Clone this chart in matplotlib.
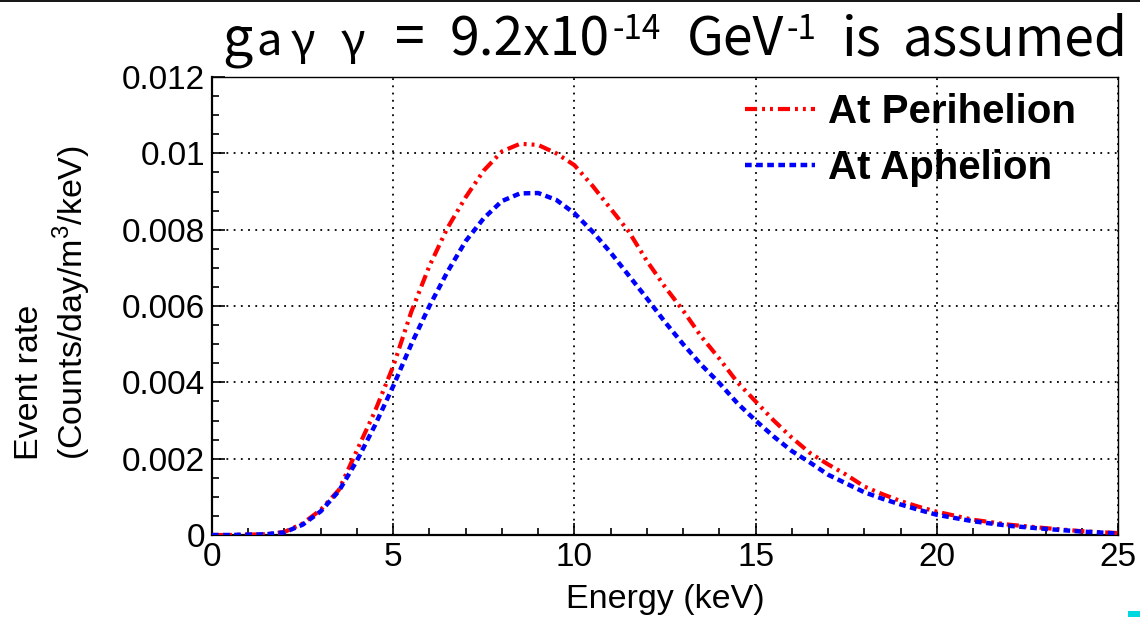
import matplotlib
matplotlib.use('Agg')
import matplotlib.pyplot as plt
from matplotlib.ticker import MultipleLocator, FuncFormatter
from matplotlib.lines import Line2D
from matplotlib.patches import Rectangle

# energy grid (keV) and the two event-rate curves
energy = [0, 0.5, 1, 1.5, 2, 2.5, 3, 3.5, 4, 4.5, 5, 5.5, 6, 6.5, 7, 7.5,
          8, 8.5, 9, 9.5, 10, 10.5, 11, 11.5, 12, 12.5, 13, 13.5, 14, 14.5,
          15, 15.5, 16, 16.5, 17, 17.5, 18, 18.5, 19, 19.5, 20, 21, 22, 23, 24, 25]
rate_perihelion = [0, 0, 0.00001, 0.00002, 0.00008, 0.00030, 0.00066, 0.00118,
                   0.00222, 0.00325, 0.00442, 0.00585, 0.00705, 0.00805, 0.00885,
                   0.00955, 0.01005, 0.01025, 0.01022, 0.01000, 0.00969, 0.00915,
                   0.00855, 0.00795, 0.00718, 0.00650, 0.00588, 0.00520, 0.00462,
                   0.00400, 0.00350, 0.00300, 0.00255, 0.00215, 0.00185, 0.00158,
                   0.00127, 0.00107, 0.00089, 0.00074, 0.00061, 0.00040, 0.00027,
                   0.00018, 0.00010, 0.00005]
rate_aphelion = [0, 0, 0.00001, 0.00002, 0.00007, 0.00027, 0.00062, 0.00115,
                 0.00195, 0.00288, 0.00390, 0.00500, 0.00600, 0.00690, 0.00770,
                 0.00830, 0.00875, 0.00895, 0.00896, 0.00878, 0.00843, 0.00795,
                 0.00740, 0.00680, 0.00620, 0.00558, 0.00500, 0.00446, 0.00398,
                 0.00345, 0.00300, 0.00258, 0.00220, 0.00190, 0.00158, 0.00135,
                 0.00112, 0.00095, 0.00080, 0.00066, 0.00053, 0.00036, 0.00024,
                 0.00016, 0.00009, 0.00004]
series_labels = ['At Perihelion', 'At Aphelion']
# title pieces: text, size factor, superscript?, gap before (em)
title_pieces = [('g', 1.0, False, 0.0), ('a', 0.85, False, 0.05),
                ('γ', 0.85, False, 0.1), ('γ', 0.85, False, 0.3),
                ('=', 1.0, False, 0.35), ('9.2x10', 1.0, False, 0.3),
                ('-14', 0.62, True, 0.03), ('GeV', 1.0, False, 0.3),
                ('-1', 0.62, True, 0.03), ('is', 1.0, False, 0.3),
                ('assumed', 1.0, False, 0.25)]

plt.rcParams['font.family'] = ['Liberation Sans', 'DejaVu Sans']
plt.rcParams['mathtext.fontset'] = 'custom'
plt.rcParams['mathtext.rm'] = 'Liberation Sans'

W, H = 1140, 617
fig = plt.figure(figsize=(W / 100, H / 100), dpi=100)
ax = fig.add_axes([212 / W, 1 - 535 / H, (1118 - 212) / W, (535 - 77) / H])

ax.plot(energy, rate_perihelion, color='red', lw=3,
        linestyle=(0, (2.9, 1.2, 0.7, 1.2, 0.7, 1.2)), label=series_labels[0], zorder=3)
ax.plot(energy, rate_aphelion, color='blue', lw=3.2,
        linestyle=(0, (1.5, 1.0)), label=series_labels[1], zorder=4)

ax.set_xlim(0, 25)
ax.set_ylim(0, 0.012)
ax.xaxis.set_major_locator(MultipleLocator(5))
ax.xaxis.set_minor_locator(MultipleLocator(1))
ax.yaxis.set_major_locator(MultipleLocator(0.002))
ax.yaxis.set_minor_locator(MultipleLocator(0.0005))
fmt = FuncFormatter(lambda v, p: '%g' % v)
ax.xaxis.set_major_formatter(fmt)
ax.yaxis.set_major_formatter(fmt)
ax.tick_params(which='both', direction='in', top=False, right=False,
               labelsize=24, pad=5, width=1.2)
ax.tick_params(which='major', length=9)
ax.tick_params(which='minor', length=5)
ax.grid(True, which='major', color='black', lw=1.3, linestyle=(0, (1, 3)))
for s in ['left', 'bottom']:
    ax.spines[s].set_linewidth(1.6)
for s in ['top', 'right']:
    ax.spines[s].set_linewidth(1.0)

leg = ax.legend(loc='upper left', bbox_to_anchor=(745 / W, 1 - 93 / H),
                bbox_transform=fig.transFigure, frameon=False,
                prop={'family': 'Liberation Sans', 'weight': 'bold', 'size': 29},
                handlelength=1.74, handletextpad=0.32, labelspacing=0.45,
                borderpad=0, borderaxespad=0)

# axis titles
fig.text(38 / W, 1 - 460 / H, 'Event rate', rotation=90, rotation_mode='anchor',
         ha='left', va='baseline', fontsize=24.5)
fig.text(83 / W, 1 - 460 / H, '(Counts/day/m$^{3}$/keV)', rotation=90,
         rotation_mode='anchor', ha='left', va='baseline', fontsize=24.5)
fig.text(665 / W, 1 - 608 / H, 'Energy (keV)', ha='center', va='baseline', fontsize=24.5)

# title, drawn piece by piece (plain hyphens in the superscripts)
renderer = fig.canvas.get_renderer()
tsize = 38.5
em = tsize * 100 / 72


def draw_title(stretch):
    x = 222.0
    arts = []
    for txt, scale, sup, gap in title_pieces:
        x += gap * em * stretch
        y = H - 55 + (0.29 * em if sup else 0)
        t = fig.text(x / W, y / H, txt, ha='left', va='baseline',
                     fontsize=tsize * scale, family=['Noto Sans CJK JP', 'DejaVu Sans'])
        x += t.get_window_extent(renderer).width
        arts.append(t)
    return arts, x


arts, end = draw_title(1.0)
for t in arts:
    t.remove()
total_gap = sum(p[3] for p in title_pieces) * em
draw_title(max(0.3, 1 + (1128 - end) / total_gap))

# screenshot border bits
fig.add_artist(Line2D([0, 1], [1 - 0.8 / H, 1 - 0.8 / H], transform=fig.transFigure,
                      color='black', lw=1.3))
fig.add_artist(Rectangle((1128 / W, 0), 12 / W, 6 / H, transform=fig.transFigure,
                         color='#00d8e0', lw=0))

fig.savefig('out.png', dpi=100)
